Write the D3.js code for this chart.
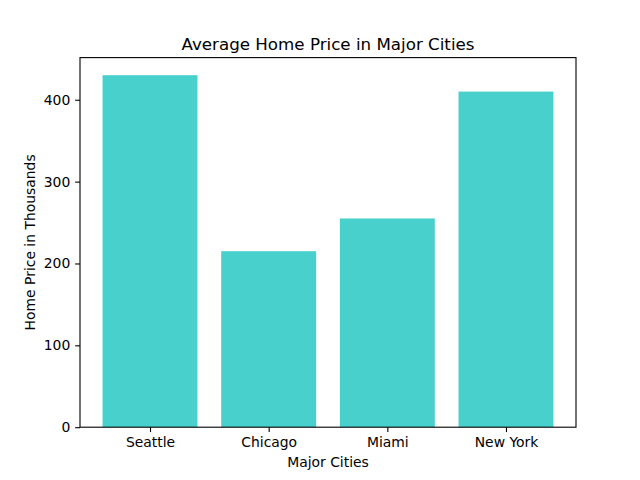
<!DOCTYPE html>
<html>
<head>
<meta charset="utf-8">
<script src="https://cdn.jsdelivr.net/npm/d3@7"></script>
<style>
  body { margin: 0; background: #fff; }
  svg text { font-family: "DejaVu Sans", sans-serif; fill: #000; }
</style>
</head>
<body>
<svg id="chart" width="640" height="480"></svg>
<script>
const cities = ["Seattle", "Chicago", "Miami", "New York"];
const prices = [430, 215, 255, 410];
const yTicks = [0, 100, 200, 300, 400];

const width = 640;
const height = 480;
const margin = {top: 57.6, right: 64, bottom: 52.8, left: 80};
const innerW = width - margin.left - margin.right;
const innerH = height - margin.top - margin.bottom;

const svg = d3.select("#chart");
const g = svg.append("g")
    .attr("transform", `translate(${margin.left},${margin.top})`);

// matplotlib style x: bars at integer positions, width 0.8, 5% margins
const lo = -0.4, hi = cities.length - 1 + 0.4;
const pad = (hi - lo) * 0.05;
const x = d3.scaleLinear()
    .domain([lo - pad, hi + pad])
    .range([0, innerW]);

const y = d3.scaleLinear()
    .domain([0, d3.max(prices) * 1.05])
    .range([innerH, 0]);

g.selectAll("rect.bar")
  .data(prices)
  .join("rect")
    .attr("class", "bar")
    .attr("x", (d, i) => x(i - 0.4))
    .attr("width", (d, i) => x(i + 0.4) - x(i - 0.4))
    .attr("y", d => y(d))
    .attr("height", d => innerH - y(d))
    .attr("fill", "#48d1cc");

// axes
const xAxis = d3.axisBottom(x)
    .tickValues(d3.range(cities.length))
    .tickFormat(i => cities[i])
    .tickSize(4.86)
    .tickPadding(4.86);

const yAxis = d3.axisLeft(y)
    .tickValues(yTicks)
    .tickFormat(d3.format("d"))
    .tickSize(4.86)
    .tickPadding(4.86);

const xg = g.append("g")
    .attr("transform", `translate(0,${innerH})`)
    .call(xAxis);
const yg = g.append("g").call(yAxis);

[xg, yg].forEach(a => {
  a.select(".domain").remove();
  a.selectAll(".tick line").attr("stroke", "#000").attr("stroke-width", 1.1);
  a.selectAll(".tick text").style("font-size", "13.9px");
});

// frame
g.append("rect")
    .attr("width", innerW)
    .attr("height", innerH)
    .attr("fill", "none")
    .attr("stroke", "#000")
    .attr("stroke-width", 1.1);

// labels
svg.append("text")
    .attr("x", margin.left + innerW / 2)
    .attr("y", 50)
    .attr("text-anchor", "middle")
    .style("font-size", "16.7px")
    .text("Average Home Price in Major Cities");

svg.append("text")
    .attr("x", margin.left + innerW / 2)
    .attr("y", 467)
    .attr("text-anchor", "middle")
    .style("font-size", "13.9px")
    .text("Major Cities");

svg.append("text")
    .attr("transform", `translate(35,${margin.top + innerH / 2}) rotate(-90)`)
    .attr("text-anchor", "middle")
    .style("font-size", "13.9px")
    .text("Home Price in Thousands");
</script>
</body>
</html>
